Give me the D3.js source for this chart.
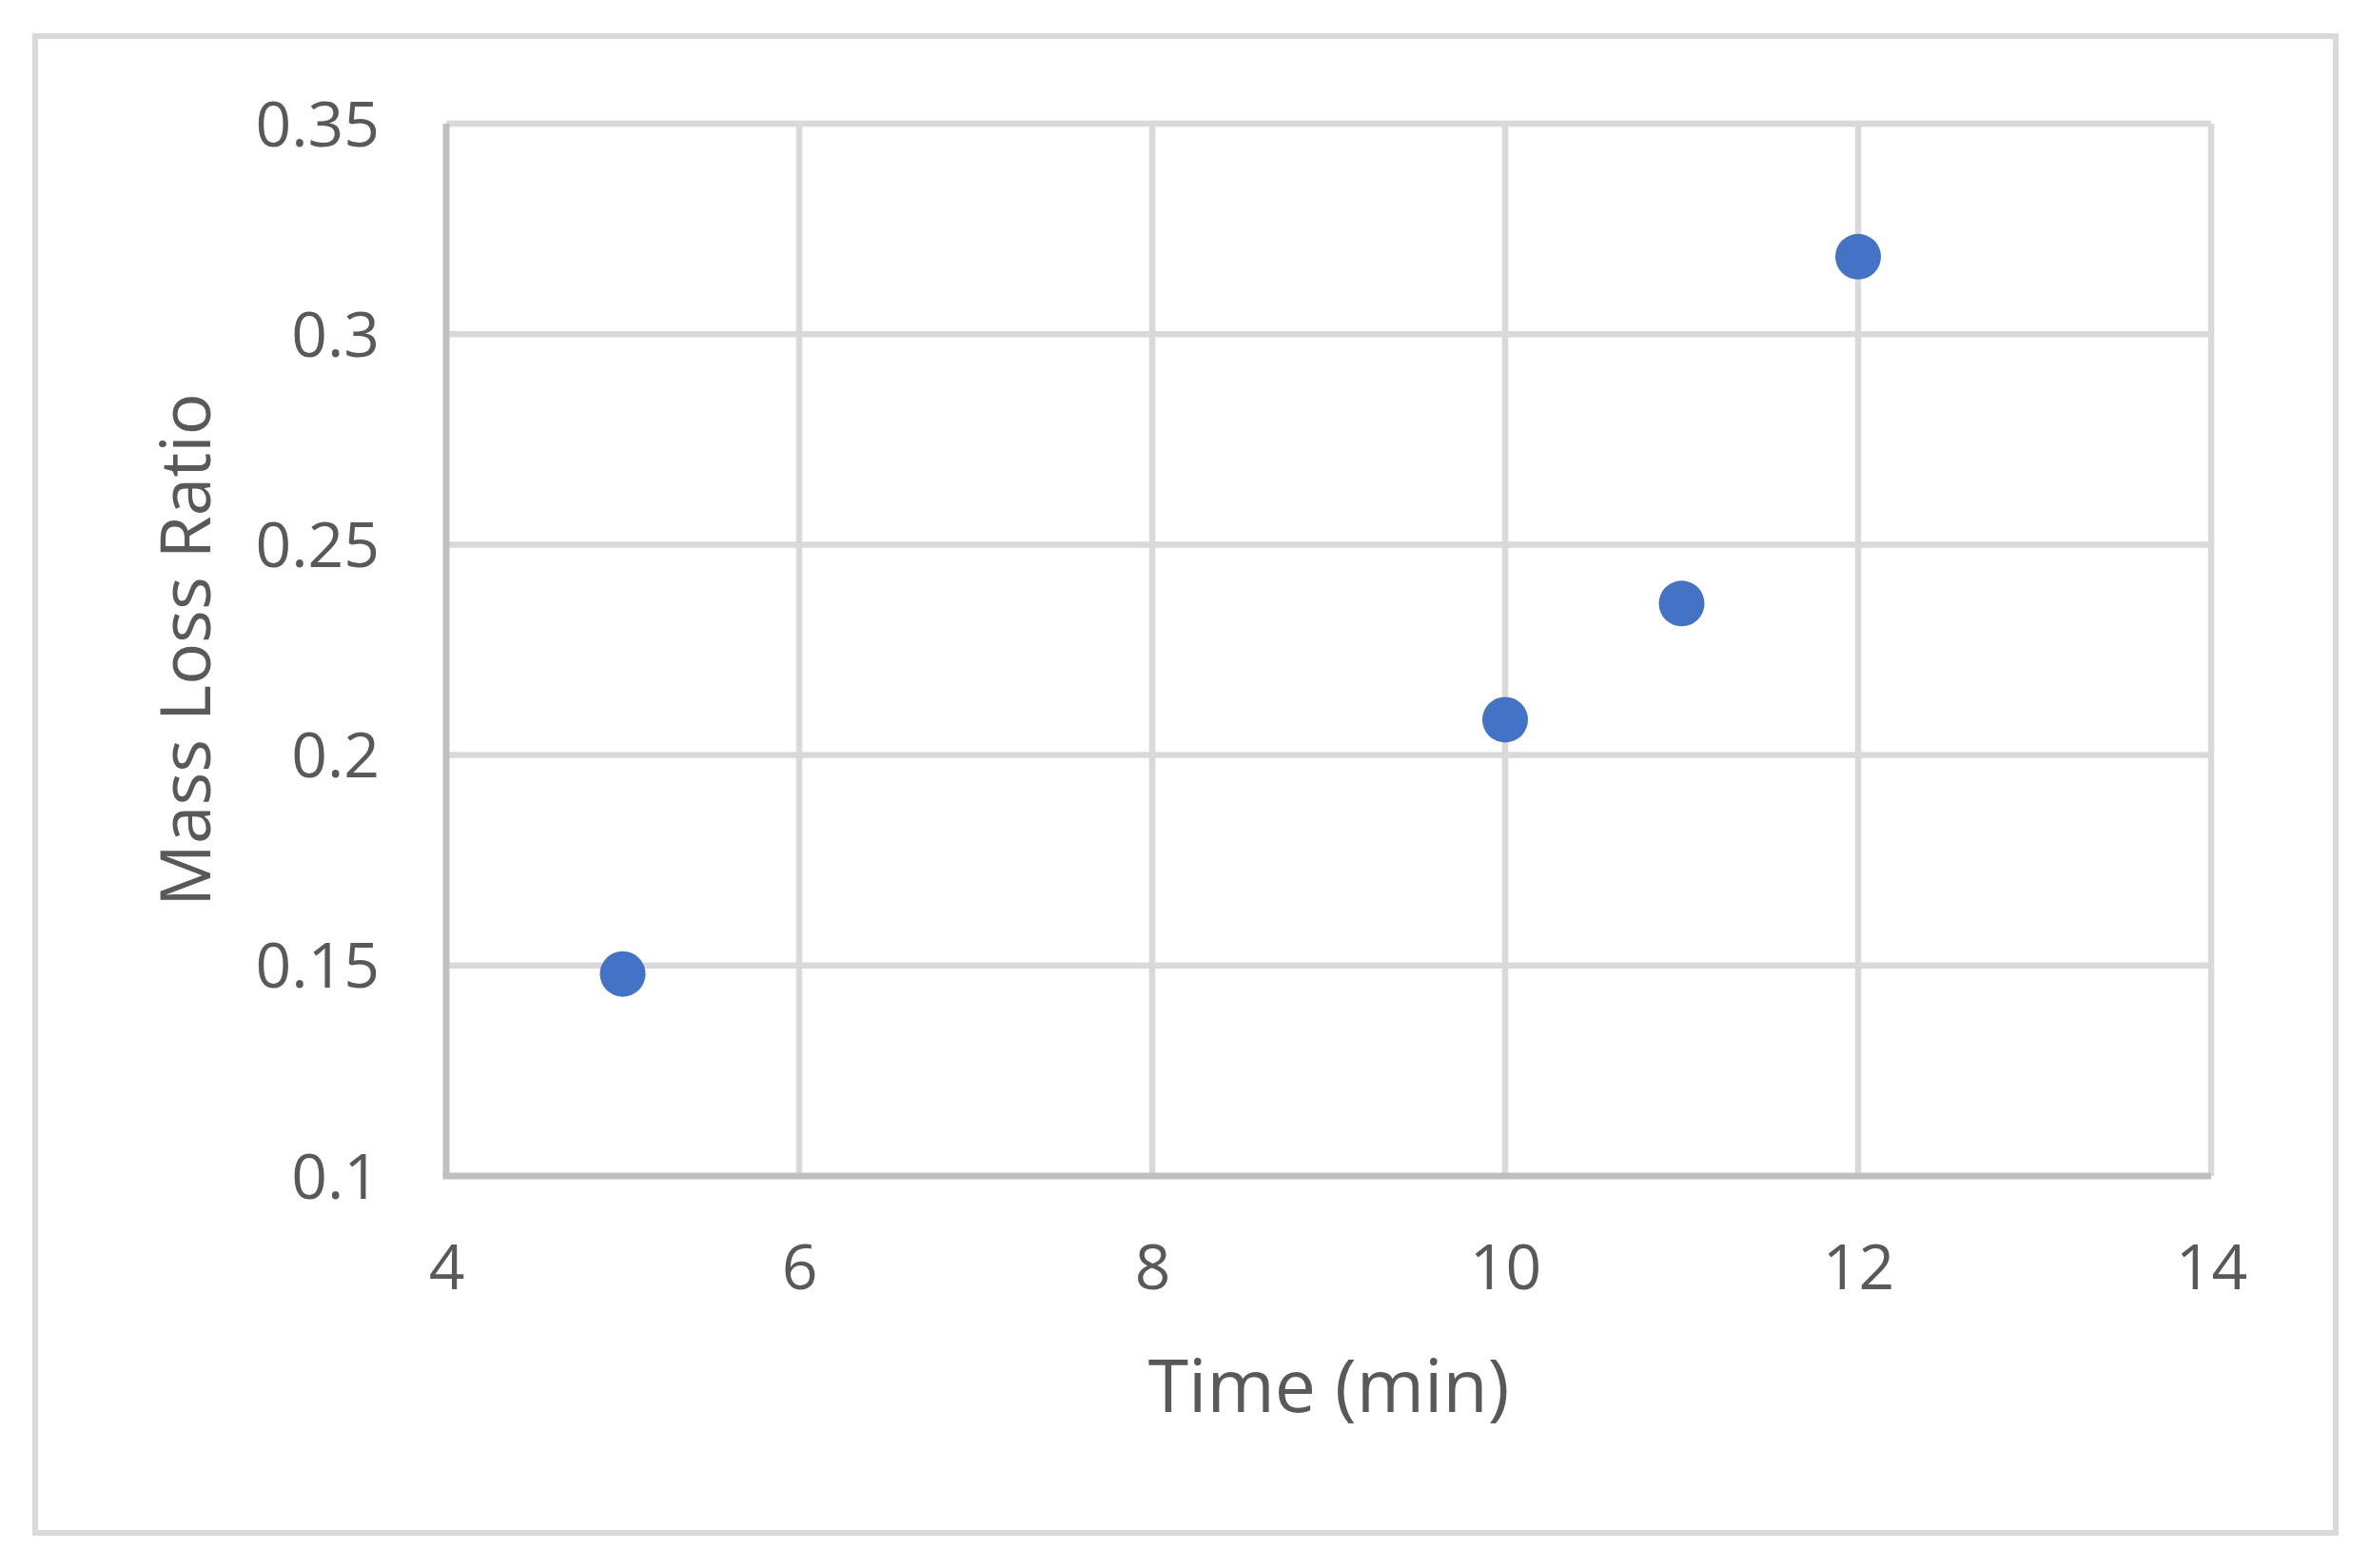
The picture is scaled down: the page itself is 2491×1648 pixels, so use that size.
<!DOCTYPE html>
<html>
<head>
<meta charset="utf-8">
<script src="https://cdn.jsdelivr.net/npm/d3@7"></script>
<style>
  html, body { margin: 0; padding: 0; background: #ffffff; }
  svg { display: block; }
  text { font-family: "Open Sans", "Noto Sans", sans-serif; fill: #595959; }
</style>
</head>
<body>
<svg id="chart" width="2491" height="1648"></svg>
<script>
// ---- data ----
const timeMin = [5, 10, 11, 12];
const massLossRatio = [0.148, 0.2084, 0.236, 0.3184];
const xTicks = [4, 6, 8, 10, 12, 14];
const yTicks = [0.1, 0.15, 0.2, 0.25, 0.3, 0.35];
const xTickLabels = ["4", "6", "8", "10", "12", "14"];
const yTickLabels = ["0.1", "0.15", "0.2", "0.25", "0.3", "0.35"];
const xTitle = "Time (min)";
const yTitle = "Mass Loss Ratio";

// ---- layout ----
const W = 2491, H = 1648;
const plot = { left: 469, right: 2324, top: 130, bottom: 1236 };

const svg = d3.select("#chart");

svg.append("rect").attr("x", 0).attr("y", 0).attr("width", W).attr("height", H).attr("fill", "#ffffff");

// outer chart border
svg.append("rect")
  .attr("x", 37).attr("y", 38)
  .attr("width", 2455 - 37).attr("height", 1611 - 38)
  .attr("fill", "none").attr("stroke", "#d9d9d9").attr("stroke-width", 6);

const x = d3.scaleLinear().domain([4, 14]).range([plot.left, plot.right]);
const y = d3.scaleLinear().domain([0.1, 0.35]).range([plot.bottom, plot.top]);

// gridlines
const grid = svg.append("g");
grid.selectAll("line.v").data(xTicks.filter(d => d !== 4)).enter().append("line")
  .attr("x1", d => x(d)).attr("x2", d => x(d))
  .attr("y1", plot.top).attr("y2", plot.bottom)
  .attr("stroke", "#d9d9d9").attr("stroke-width", 6.5);
grid.selectAll("line.h").data(yTicks.filter(d => d !== 0.1)).enter().append("line")
  .attr("y1", d => y(d)).attr("y2", d => y(d))
  .attr("x1", plot.left).attr("x2", plot.right)
  .attr("stroke", "#d9d9d9").attr("stroke-width", 6.5);

// axes via d3 axis generators
const xAxis = d3.axisBottom(x).tickValues(xTicks)
  .tickFormat((d, i) => xTickLabels[i]).tickSize(0).tickPadding(0);
const gx = svg.append("g").attr("transform", `translate(0,${plot.bottom})`).call(xAxis);
gx.select(".domain").attr("stroke", "#bfbfbf").attr("stroke-width", 7)
  .attr("d", `M${plot.left - 3.5},0H${plot.right}`);
gx.selectAll("text")
  .attr("y", 96).attr("dy", "0.35em")
  .style("font-size", "66px").style("font-family", "'Open Sans', sans-serif")
  .attr("fill", "#595959");

const yAxis = d3.axisLeft(y).tickValues(yTicks)
  .tickFormat((d, i) => yTickLabels[i]).tickSize(0).tickPadding(0);
const gy = svg.append("g").attr("transform", `translate(${plot.left},0)`).call(yAxis);
gy.select(".domain").attr("stroke", "#bfbfbf").attr("stroke-width", 7)
  .attr("d", `M0,${plot.top}V${plot.bottom}`);
gy.selectAll("text")
  .attr("x", -70).attr("dy", "0.35em")
  .style("font-size", "66px").style("font-family", "'Open Sans', sans-serif")
  .attr("fill", "#595959");

// points
svg.append("g").selectAll("circle").data(timeMin).enter().append("circle")
  .attr("cx", d => x(d))
  .attr("cy", (d, i) => y(massLossRatio[i]))
  .attr("r", 24)
  .attr("fill", "#4472c4");

// axis titles
svg.append("text")
  .attr("x", (plot.left + plot.right) / 2).attr("y", 1484)
  .attr("text-anchor", "middle")
  .style("font-size", "77px")
  .text(xTitle);

svg.append("text")
  .attr("transform", `translate(221,${(plot.top + plot.bottom) / 2}) rotate(-90)`)
  .attr("text-anchor", "middle")
  .style("font-size", "73px")
  .text(yTitle);
</script>
</body>
</html>
